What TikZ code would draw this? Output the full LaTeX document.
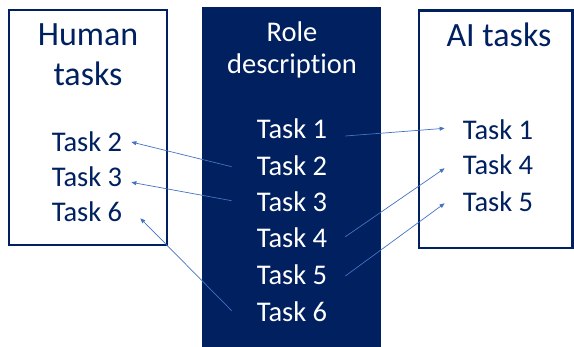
\documentclass[tikz,border=0pt]{standalone}
\usepackage{fontspec}
\setmainfont[RawFeature={-liga;-clig;-calt;-dlig}]{Carlito}
\usetikzlibrary{arrows.meta}
\definecolor{navy}{HTML}{002060}
\definecolor{link}{HTML}{4472C4}
\begin{document}
\begin{tikzpicture}[x=1pt,y=-1pt,
  every node/.style={inner sep=0pt,font=\fontsize{28.5}{34}\selectfont},
  big/.style={font=\fontsize{34}{40}\selectfont},
  dark/.style={text=navy,anchor=base},
  light/.style={text=white,anchor=base},
  frame/.style={draw=navy,line width=2.6pt},
  arr/.style={draw=link,line width=0.7pt,-{Triangle[length=5pt,width=4pt]}}]
\useasboundingbox (0,0) rectangle (574,347);
% columns
\draw[frame] (9,10) rectangle (167,245);
\fill[navy] (202,7) rectangle (381,350);
\draw[frame] (419,10.5) rectangle (572.5,248);
% headings
\node[dark,big] (hh1) at (88,45.7) {Human};
\node[dark,big] (hh2) at (88,86) {tasks};
\node[light] (rh1) at (292,41.7) {Role};
\node[light] (rh2) at (292,74) {description};
\node[dark,big] (ah) at (499,46.7) {AI tasks};
% human tasks
\node[dark] (h2) at (87,152) {Task 2};
\node[dark] (h3) at (87,187) {Task 3};
\node[dark] (h6) at (87,222) {Task 6};
% role tasks
\node[light] (c1) at (292,138.3) {Task 1};
\node[light] (c2) at (292,175.7) {Task 2};
\node[light] (c3) at (292,211.7) {Task 3};
\node[light] (c4) at (292,248) {Task 4};
\node[light] (c5) at (292,285) {Task 5};
\node[light] (c6) at (292,321.7) {Task 6};
% AI tasks
\node[dark] (a1) at (498,139.3) {Task 1};
\node[dark] (a4) at (498,175) {Task 4};
\node[dark] (a5) at (498,211.7) {Task 5};
% assignments
\draw[arr] ([xshift=18pt,yshift=2.3pt]c1.base east) -- ([xshift=-18pt,yshift=11pt]a1.base west);
\draw[arr] ([xshift=18pt,yshift=11.3pt]c4.base east) -- ([xshift=-18pt,yshift=6.7pt]a4.base west);
\draw[arr] ([xshift=18pt,yshift=9pt]c5.base east) -- ([xshift=-18pt,yshift=8.4pt]a5.base west);
\draw[arr] ([xshift=-25pt,yshift=9pt]c2.base west) -- ([xshift=9pt,yshift=10pt]h2.base east);
\draw[arr] ([xshift=-25pt,yshift=11pt]c3.base west) -- ([xshift=9pt,yshift=4.7pt]h3.base east);
\draw[arr] ([xshift=-25pt,yshift=11pt]c6.base west) -- ([xshift=18pt,yshift=3.7pt]h6.base east);
\end{tikzpicture}
\end{document}
